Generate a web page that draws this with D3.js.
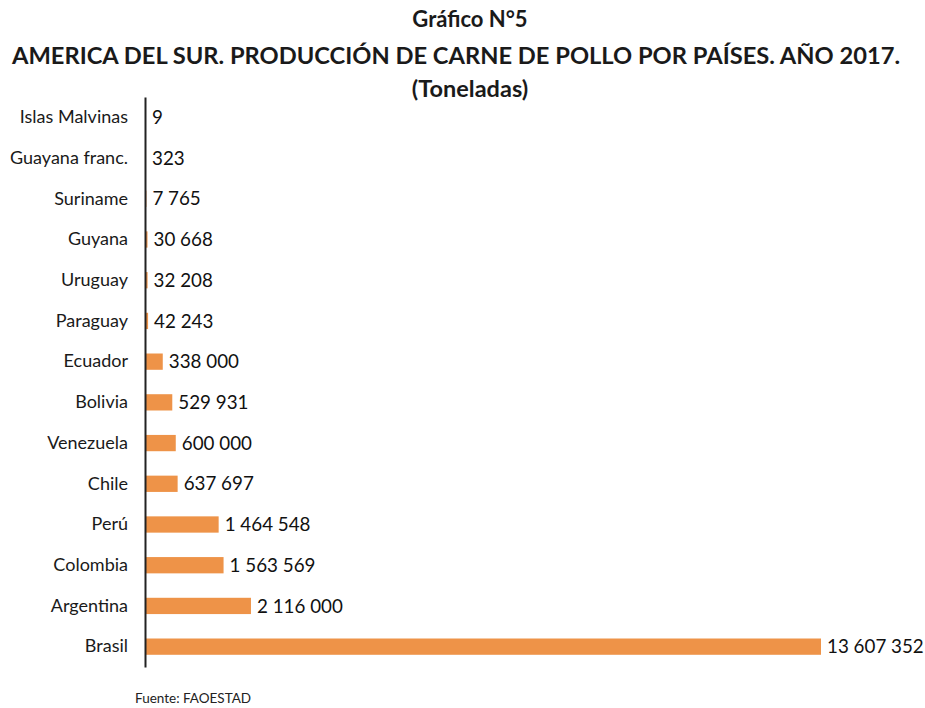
<!DOCTYPE html>
<meta charset="utf-8">
<style type="text/css">
	body {
		margin: 0;
		background: #fff;
		font-family: Lato, "Open Sans", sans-serif;
	}

	.title {
		font-weight: bold;
		fill: #1a1a1a;
		text-anchor: middle;
	}

	.y.axis text {
		font-family: Lato, "Open Sans", sans-serif;
		font-size: 18px;
		fill: #1a1a1a;
	}

	.y.axis line {
		display: none;
	}

	.y.axis .domain {
		stroke: #222;
		stroke-width: 2px;
	}

	.bar {
		fill: #ee9348;
	}

	.value {
		font-size: 18.8px;
		fill: #111;
	}

	.source {
		font-size: 13.5px;
		fill: #222;
	}
</style>

<body>
<div class="g-chart"></div>
</body>

<script src="https://d3js.org/d3.v7.min.js"></script>

<script>
  // data (Toneladas, 2017)
  var countries = ["Islas Malvinas", "Guayana franc.", "Suriname", "Guyana", "Uruguay", "Paraguay",
    "Ecuador", "Bolivia", "Venezuela", "Chile", "Perú", "Colombia", "Argentina", "Brasil"];
  var production = [9, 323, 7765, 30668, 32208, 42243,
    338000, 529931, 600000, 637697, 1464548, 1563569, 2116000, 13607352];
  var titleLines = ["Gráfico N°5",
    "AMERICA DEL SUR. PRODUCCIÓN DE CARNE DE POLLO POR PAÍSES. AÑO 2017.",
    "(Toneladas)"];
  var source = "Fuente: FAOESTAD";

  var data = countries.map(function(c, i) { return { country: c, value: production[i] }; });

  var width = 925, height = 708;
  var margin = { top: 97, right: 105, bottom: 41, left: 145 };

  var svg = d3.select(".g-chart").append("svg")
    .attr("width", width)
    .attr("height", height);

  // title
  var titleY = [27, 64, 97];
  var titleSize = [22, 23.7, 23.5];
  var titleX = [470, 456, 470];
  svg.selectAll("text.title")
    .data(titleLines)
    .enter()
    .append("text")
    .attr("class", "title")
    .attr("x", function(d, i) { return titleX[i]; })
    .attr("y", function(d, i) { return titleY[i]; })
    .style("font-size", function(d, i) { return titleSize[i] + "px"; })
    .text(function(d) { return d; });

  var g = svg.append("g")
    .attr("transform", "translate(" + margin.left + "," + margin.top + ")");

  var innerH = height - margin.top - margin.bottom;

  var xScale = d3.scaleLinear()
    .domain([0, d3.max(production)])
    .range([0, 675]);

  var yScale = d3.scaleBand()
    .domain(countries)
    .range([0, innerH])
    .paddingInner(0.6)
    .paddingOuter(0.3);

  var fmt = d3.formatLocale({ decimal: ",", thousands: " ", grouping: [3], currency: ["", ""] }).format(",d");

  g.selectAll("rect.bar")
    .data(data)
    .enter()
    .append("rect")
    .attr("class", "bar")
    .attr("x", 1)
    .attr("y", function(d) { return yScale(d.country); })
    .attr("width", function(d) { return xScale(d.value); })
    .attr("height", yScale.bandwidth());

  g.selectAll("text.value")
    .data(data)
    .enter()
    .append("text")
    .attr("class", "value")
    .attr("x", function(d) { return xScale(d.value) + 7; })
    .attr("y", function(d) { return yScale(d.country) + yScale.bandwidth() / 2; })
    .attr("dy", "0.35em")
    .text(function(d) { return fmt(d.value); });

  //y axis
  g.append("g")
    .attr("class", "y axis")
    .call(d3.axisLeft(yScale).tickSize(0).tickPadding(17).tickSizeOuter(0));

  svg.append("text")
    .attr("class", "source")
    .attr("x", 135)
    .attr("y", 703)
    .text(source);
</script>
